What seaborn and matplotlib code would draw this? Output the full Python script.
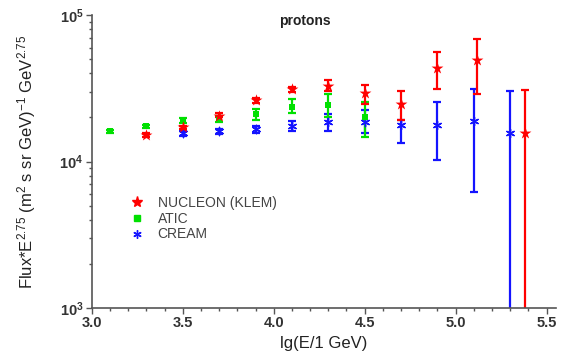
import numpy as np
import matplotlib
matplotlib.use("Agg")
import matplotlib.pyplot as plt
import seaborn as sns

# NUCLEON (KLEM) protons
nuc_x = [3.30, 3.50, 3.70, 3.90, 4.10, 4.30, 4.50, 4.70, 4.90, 5.12, 5.38]
nuc_y = [15100, 17100, 20600, 26200, 31100, 32700, 29200, 24600, 43400, 49200, 15600]
nuc_lo = [14600, 16600, 20000, 25300, 29800, 30100, 24900, 19100, 31100, 28800, 500]
nuc_hi = [15600, 17600, 21300, 27100, 32500, 35900, 33200, 30100, 55800, 68500, 30600]

# ATIC
atic_x = [3.10, 3.30, 3.50, 3.70, 3.90, 4.10, 4.30, 4.50]
atic_y = [16100, 17400, 19100, 19500, 21000, 23400, 24500, 20000]
atic_lo = [15700, 16900, 18300, 18600, 19100, 21300, 20000, 14600]
atic_hi = [16500, 17900, 19900, 20400, 22700, 26600, 28800, 25400]

# CREAM
cream_x = [3.50, 3.70, 3.90, 4.10, 4.30, 4.50, 4.70, 4.90, 5.10, 5.30]
cream_y = [15600, 16100, 16800, 17400, 18500, 18500, 17900, 17900, 18800, 15600]
cream_lo = [15000, 15500, 15600, 16100, 16100, 15600, 13300, 10300, 6240, 500]
cream_hi = [16200, 16700, 17600, 18800, 21000, 22400, 19300, 25400, 31100, 30100]

x_ticks = [3.0, 3.5, 4.0, 4.5, 5.0, 5.5]
x_labels = ["3.0", "3.5", "4.0", "4.5", "5.0", "5.5"]
y_ticks = [1e3, 1e4, 1e5]
y_labels = [r"$\mathbf{10^{3}}$", r"$\mathbf{10^{4}}$", r"$\mathbf{10^{5}}$"]

sns.set_style("ticks")
plt.rcParams['font.family'] = ['Liberation Sans', 'DejaVu Sans']
plt.rcParams['mathtext.fontset'] = 'custom'
plt.rcParams['mathtext.rm'] = 'Liberation Sans'
plt.rcParams['mathtext.it'] = 'Liberation Sans'
plt.rcParams['mathtext.bf'] = 'Liberation Sans:bold'

fig = plt.figure(figsize=(5.63, 3.62), dpi=100)
ax = fig.add_axes([0.163, 0.149, 0.824, 0.8094])

series = [
    ("CREAM", cream_x, cream_y, cream_lo, cream_hi, "#1414ff", (6, 2, 0), 36),
    ("ATIC", atic_x, atic_y, atic_lo, atic_hi, "#00e000", "s", 24),
    ("NUCLEON (KLEM)", nuc_x, nuc_y, nuc_lo, nuc_hi, "#ff0000", "*", 80),
]

for name, x, y, lo, hi, col, mk, sz in series:
    y = np.array(y)
    err = [y - np.array(lo), np.array(hi) - y]
    ax.errorbar(x, y, yerr=err, fmt="none", ecolor=col, elinewidth=1.6,
                capsize=3.2, capthick=1.6, zorder=2)
    sns.scatterplot(x=x, y=y, color=col, marker=mk, s=sz,
                    linewidth=1.0 if mk == (6, 2, 0) else 0,
                    edgecolor=col, ax=ax, zorder=3, legend=False)

ax.set_yscale("log")
ax.set_xlim(3.0, 5.55)
ax.set_ylim(1e3, 1e5)
ax.set_xticks(x_ticks)
ax.set_xticklabels(x_labels, fontweight="bold")
ax.set_xticks(np.arange(3.0, 5.56, 0.1), minor=True)
ax.set_yticks(y_ticks)
ax.set_yticklabels(y_labels)

for s in ["top", "right"]:
    ax.spines[s].set_visible(False)
for s in ["left", "bottom"]:
    ax.spines[s].set_color("#555555")
    ax.spines[s].set_linewidth(1.2)
ax.tick_params(which="major", direction="out", length=4, width=1, color="#555555",
               labelsize=10.5, labelcolor="#333333", pad=2)
ax.tick_params(which="minor", direction="out", length=2, width=1, color="#555555")

ax.set_xlabel("lg(E/1 GeV)", fontsize=12, labelpad=4, color="#222222")
ax.set_ylabel(r"Flux*E$^{2.75}$ (m$^{2}$ s sr GeV)$^{-1}$ GeV$^{2.75}$",
              fontsize=12, color="#222222")
ax.yaxis.set_label_coords(-0.115, 0.5)
ax.text(0.46, 1.005, "protons", transform=ax.transAxes, ha="center", va="top",
        fontsize=10, fontweight="bold", color="#222222")

handles = [
    plt.Line2D([], [], ls="none", marker="*", color="#ff0000", markersize=8),
    plt.Line2D([], [], ls="none", marker="s", color="#00e000", markersize=4.5),
    plt.Line2D([], [], ls="none", marker=(6, 2, 0), color="#1414ff", markersize=6,
               markeredgewidth=1),
]
ax.legend(handles, ["NUCLEON (KLEM)", "ATIC", "CREAM"], loc="upper left",
          bbox_to_anchor=(0.04, 0.425), frameon=False, fontsize=10,
          handletextpad=0.5, labelspacing=0.12, labelcolor="#444444")

fig.savefig("out.png", dpi=100)
